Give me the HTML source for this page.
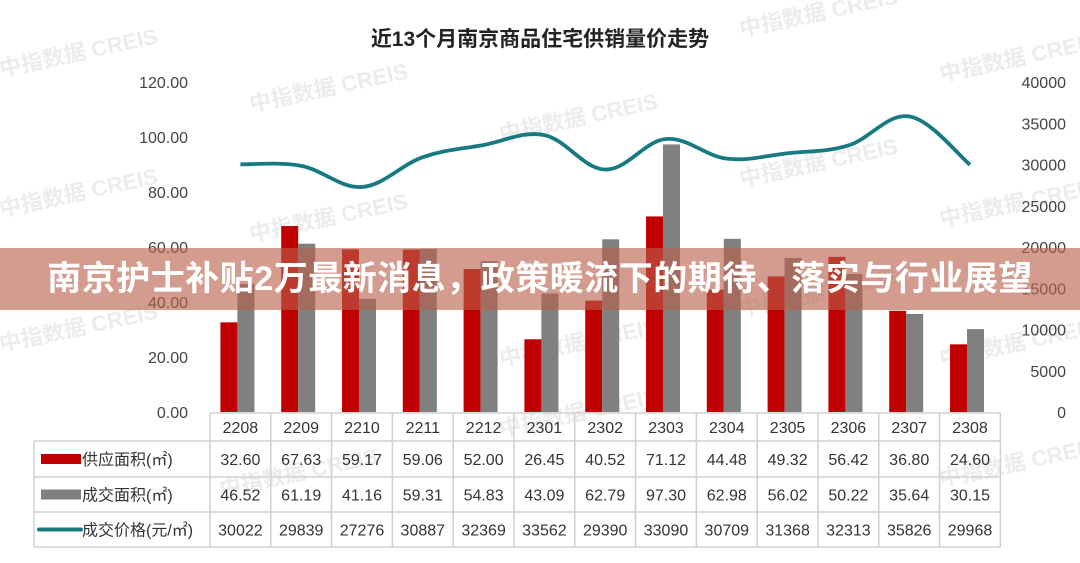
<!DOCTYPE html>
<html><head><meta charset="utf-8">
<style>
html,body{margin:0;padding:0;background:#fff;}
body{width:1080px;height:558px;overflow:hidden;position:relative;font-family:"Liberation Sans","Noto Sans CJK SC",sans-serif;}
svg text{font-family:"Liberation Sans","Noto Sans CJK SC",sans-serif;}
.banner{position:absolute;left:0;top:248px;width:1080px;height:62px;background:rgba(185,95,75,0.62);color:#fff;font-weight:bold;font-size:34px;line-height:62px;text-align:center;font-family:"Liberation Sans","Noto Sans CJK SC",sans-serif;letter-spacing:0.5px;white-space:nowrap;}
</style></head>
<body>
<svg id="chart" width="1080" height="558" xmlns="http://www.w3.org/2000/svg">
<g id="wm"></g>
<text x="540" y="46" text-anchor="middle" font-size="21" font-weight="bold" fill="#222">近13个月南京商品住宅供销量价走势</text>
<g id="axes"></g>
<g id="bars"></g>
<g id="line"></g>
<g id="table"></g>
</svg>
<div class="banner">南京护士补贴2万最新消息，政策暖流下的期待、落实与行业展望</div>
<script>
const categories=["2208","2209","2210","2211","2212","2301","2302","2303","2304","2305","2306","2307","2308"];
const supplyArea=[32.60,67.63,59.17,59.06,52.00,26.45,40.52,71.12,44.48,49.32,56.42,36.80,24.60];
const dealArea=[46.52,61.19,41.16,59.31,54.83,43.09,62.79,97.30,62.98,56.02,50.22,35.64,30.15];
const dealPrice=[30022,29839,27276,30887,32369,33562,29390,33090,30709,31368,32313,35826,29968];
const leftTicks=[0,20,40,60,80,100,120];
const rightTicks=[0,5000,10000,15000,20000,25000,30000,35000,40000];

const NS="http://www.w3.org/2000/svg";
const X0=210,COLW=60.8,Y0=412,YT=82;
const xC=i=>X0+COLW*i+COLW/2;
const yL=v=>Y0-(v/120)*(Y0-YT);
const yR=v=>Y0-(v/40000)*(Y0-YT);
function mk(tag,attrs,parent,txt){const e=document.createElementNS(NS,tag);for(const k in attrs)e.setAttribute(k,attrs[k]);if(txt!==undefined)e.textContent=txt;parent.appendChild(e);return e;}

const wm=document.getElementById('wm');
[[80,60],[330,95],[580,125],[820,170],[1020,65],[80,200],[330,225],[80,335],[580,420],[820,300],[1020,210],[1020,350],[300,480],[580,350],[1020,470],[820,20]].forEach(p=>{
 const t=mk('text',{x:p[0],y:p[1],'text-anchor':'middle','font-size':'22','font-weight':'bold',fill:'#ececec',transform:`rotate(-12 ${p[0]} ${p[1]})`},wm,'中指数据 CREIS');
 
 
});

const ax=document.getElementById('axes');
leftTicks.forEach(v=>{
 const t=mk('text',{x:188,y:yL(v)+6,'text-anchor':'end','font-size':'16',fill:'#444'},ax,v.toFixed(2));
 
 
});
rightTicks.forEach(v=>{
 const t=mk('text',{x:1066,y:yR(v)+6,'text-anchor':'end','font-size':'16',fill:'#444'},ax,String(v));
 
 
});

const bars=document.getElementById('bars');
categories.forEach((c,i)=>{
 const cx=xC(i)-3;
 const r=mk('rect',{x:cx-17,y:yL(supplyArea[i]),width:17,height:Y0-yL(supplyArea[i]),fill:'#c00000'},bars);
 
 
 const g=mk('rect',{x:cx,y:yL(dealArea[i]),width:17,height:Y0-yL(dealArea[i]),fill:'#808080'},bars);
 
 
});

const pts=dealPrice.map((v,i)=>[xC(i),yR(v)]);
let d=`M${pts[0][0]},${pts[0][1]}`;
for(let i=0;i<pts.length-1;i++){
 const p0=pts[i-1]||pts[i],p1=pts[i],p2=pts[i+1],p3=pts[i+2]||p2;
 const t=0.18;
 const c1=[p1[0]+(p2[0]-p0[0])*t,p1[1]+(p2[1]-p0[1])*t];
 const c2=[p2[0]-(p3[0]-p1[0])*t,p2[1]-(p3[1]-p1[1])*t];
 d+=` C${c1[0]},${c1[1]} ${c2[0]},${c2[1]} ${p2[0]},${p2[1]}`;
}
const ln=mk('path',{d:d,fill:'none',stroke:'#177a82','stroke-width':'3.8'},document.getElementById('line'));



const tb=document.getElementById('table');
const rowsY=[413,441,477,512,547];
const RIGHT=X0+COLW*13;
const st={stroke:'#d0d0d0','stroke-width':'1.5',fill:'none'};
mk('line',Object.assign({x1:X0,y1:413,x2:RIGHT,y2:413},st),tb);
for(let k=1;k<rowsY.length;k++) mk('line',Object.assign({x1:34,y1:rowsY[k],x2:RIGHT,y2:rowsY[k]},st),tb);
mk('line',Object.assign({x1:34,y1:441,x2:34,y2:547},st),tb);
for(let i=0;i<=13;i++) mk('line',Object.assign({x1:X0+COLW*i,y1:413,x2:X0+COLW*i,y2:547},st),tb);
categories.forEach((c,i)=>{
 const t=mk('text',{x:xC(i),y:433,'text-anchor':'middle','font-size':'16',fill:'#333'},tb,c);
 
 
});
const rows=[["供应面积(㎡)",supplyArea.map(v=>v.toFixed(2)),'bar','#c00000'],["成交面积(㎡)",dealArea.map(v=>v.toFixed(2)),'bar','#808080'],["成交价格(元/㎡)",dealPrice.map(String),'line','#177a82']];
rows.forEach((r,k)=>{
 const cy=(rowsY[k+1]+rowsY[k+2])/2;
 if(r[2]==='bar'){const s=mk('rect',{x:41,y:cy-5,width:40,height:10,fill:r[3]},tb);}
 else{const s=mk('line',{x1:39,y1:cy,x2:81,y2:cy,stroke:r[3],'stroke-width':'4','stroke-linecap':'round'},tb);}
 const lb=mk('text',{x:82,y:cy+6,'font-size':'16',fill:'#333'},tb,r[0]);
 
 
 r[1].forEach((v,i)=>{
  const t=mk('text',{x:xC(i),y:cy+6,'text-anchor':'middle','font-size':'16',fill:'#333'},tb,v);
  
  
 });
});
</script>
</body></html>
